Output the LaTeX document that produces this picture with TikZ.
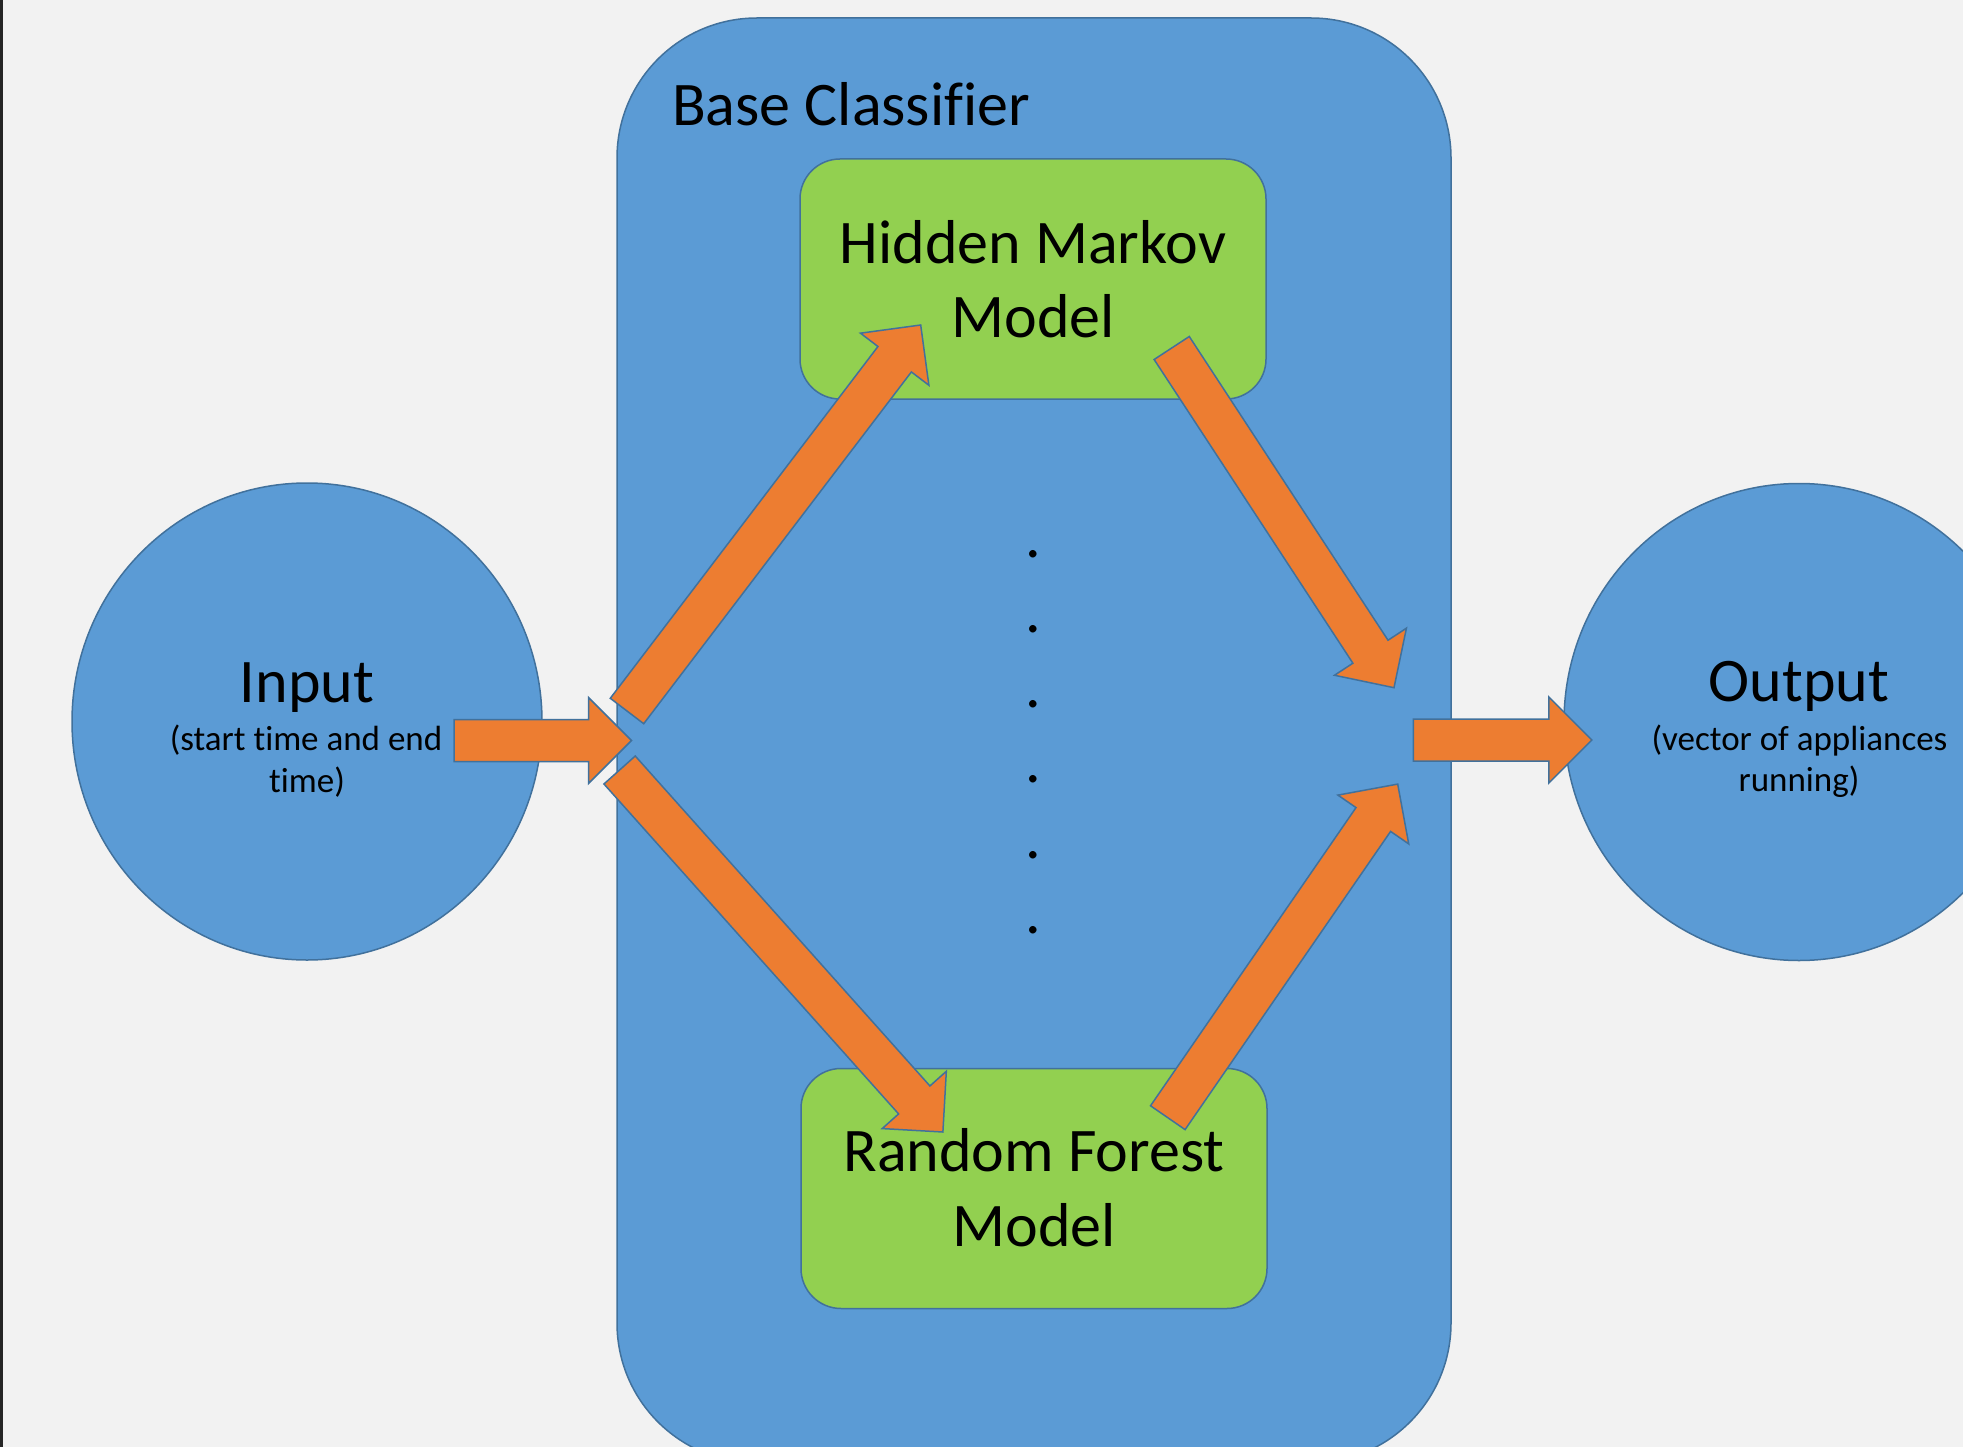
\documentclass[tikz,border=0pt]{standalone}
\usepackage{fontspec}
\setmainfont{Carlito}[Ligatures=NoCommon]
\usetikzlibrary{calc,shapes.geometric}

\definecolor{paper}{HTML}{F2F2F2}
\definecolor{boxblue}{HTML}{5B9BD5}
\definecolor{edgeblue}{HTML}{41719C}
\definecolor{modelgreen}{HTML}{92D050}
\definecolor{flow}{HTML}{ED7D31}

\tikzset{
  panel/.style={draw=edgeblue, fill=boxblue, line width=1.5pt, rounded corners=140pt,
    minimum width=834pt, minimum height=1445pt, inner sep=0pt},
  terminal/.style={ellipse, draw=edgeblue, fill=boxblue, line width=1.5pt,
    minimum width=470pt, minimum height=477pt, inner sep=0pt},
  model/.style={draw=edgeblue, fill=modelgreen, line width=1.5pt, rounded corners=40pt,
    minimum width=466pt, minimum height=240pt, inner sep=0pt},
  bigtext/.style={anchor=base, inner sep=0pt, font=\fontsize{62}{74}\selectfont},
  smalltext/.style={anchor=base, inner sep=0pt, font=\fontsize{35}{41.5}\selectfont},
  flowarrow/.style={fill=flow, draw=edgeblue, line width=1.5pt, line join=miter},
}

% block arrow from a tail coordinate to a tip coordinate:
% shaft 42 wide, right-angled head 86 wide and 43 long
\newcommand\blockarrow[2]{%
  \coordinate (hb) at ($(#2)!43pt!(#1)$);
  \filldraw[flowarrow]
    ($(#1)!21pt!90:(#2)$) -- ($(hb)!21pt!90:(#2)$) -- ($(hb)!43pt!90:(#2)$) --
    (#2) --
    ($(hb)!43pt!-90:(#2)$) -- ($(hb)!21pt!-90:(#2)$) -- ($(#1)!21pt!-90:(#2)$) -- cycle;
}

\begin{document}
\begin{tikzpicture}[x=1pt, y=-1pt]
  \useasboundingbox (0,0) rectangle (1963,1447);
  \clip (0,0) rectangle (1963,1447);
  \fill[paper] (0,0) rectangle (1963,1447);
  \fill[black!85] (0,0) rectangle (3,1447);

  % classifier panel and the two end points
  \node[panel] (base) at (1034,740.5) {};
  \node[bigtext, anchor=base west] (basetitle) at (672,126) {Base Classifier};

  \node[terminal] (input) at (307,721.5) {};
  \node[terminal] (output) at (1799,722) {};

  % models
  \node[model] (hmm) at (1033,279) {};
  \node[model] (rf) at (1034,1188.5) {};

  % labels
  \node[bigtext] (hmm1) at (1033,263.3) {Hidden Markov};
  \node[bigtext] (hmm2) at (1033,337.7) {Model};
  \node[bigtext] (rf1) at (1034,1171.7) {Random Forest};
  \node[bigtext] (rf2) at (1034,1246.7) {Model};

  \node[bigtext] (in1) at (307,702) {Input};
  \node[smalltext] (in2) at (306,750.6) {(start time and end};
  \node[smalltext] (in3) at (307,792) {time)};

  \node[bigtext] (out1) at (1799,701.7) {Output};
  \node[smalltext] (out2) at (1799.5,750) {(vector of appliances};
  \node[smalltext] (out3) at (1799,791.7) {running)};

  % vertical ellipsis between the models
  \foreach \i/\yy in {1/557,2/632,3/707.5,4/782.5,5/858,6/933.5}
    \node[bigtext] (dot\i) at (1033,\yy) {.};

  % arrow end points
  \coordinate (a1s) at (454,740.5);    \coordinate (a1e) at (631.5,740.5);
  \coordinate (a2s) at (627,711);      \coordinate (a2e) at (920.7,325);
  \coordinate (a3s) at (619.6,770);    \coordinate (a3e) at (942.9,1132);
  \coordinate (a4s) at (1171.7,348);   \coordinate (a4e) at (1394,687.7);
  \coordinate (a5s) at (1167.8,1117.7);\coordinate (a5e) at (1397.7,784.1);
  \coordinate (a6s) at (1413.3,740);   \coordinate (a6e) at (1591.8,740);

  \blockarrow{a1s}{a1e}
  \blockarrow{a2s}{a2e}
  \blockarrow{a3s}{a3e}
  \blockarrow{a4s}{a4e}
  \blockarrow{a5s}{a5e}
  \blockarrow{a6s}{a6e}
\end{tikzpicture}
\end{document}
